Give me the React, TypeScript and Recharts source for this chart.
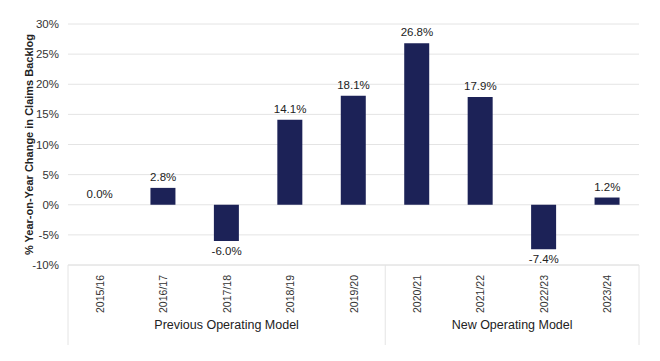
import { ComposedChart, Bar, Line, XAxis, YAxis, CartesianGrid, LabelList } from "recharts";

const years = ["2015/16", "2016/17", "2017/18", "2018/19", "2019/20", "2020/21", "2021/22", "2022/23", "2023/24"];
const changes = [0.0, 2.8, -6.0, 14.1, 18.1, 26.8, 17.9, -7.4, 1.2];
const yTicks = [-10, -5, 0, 5, 10, 15, 20, 25, 30];
const groupNames = ["Previous Operating Model", "New Operating Model"];
// index of last year under the previous model
const lastPrevious = 4;

const data = years.map((year, i) => ({ year, change: changes[i] }));

const FONT = "'Liberation Sans', Arial, sans-serif";
const NAVY = "#1c2257";
const LINE = "#e4e4e4";

const W = 660;
const H = 361;
const MARGIN = { top: 24, right: 21, bottom: 0, left: 0 };
const Y_AXIS_W = 68;
const X_AXIS_H = 96;
const band = (W - MARGIN.left - MARGIN.right - Y_AXIS_W) / years.length;

function YearTick(props: any) {
  const { x, y, payload, index } = props;
  const half = band / 2;
  const top = y - 8;
  const lineBottom = y + 72;
  return (
    <g>
      <text
        x={x}
        y={y + 2}
        transform={`rotate(-90, ${x}, ${y + 2})`}
        textAnchor="end"
        dominantBaseline="central"
        fontSize={10.5}
        fontFamily={FONT}
        fill="#333"
      >
        {payload.value}
      </text>
      {index === 0 && <line x1={x - half} y1={top} x2={x - half} y2={lineBottom} stroke={LINE} />}
      {index === lastPrevious && <line x1={x + half} y1={top} x2={x + half} y2={lineBottom} stroke={LINE} />}
      {index === years.length - 1 && <line x1={x + half} y1={top} x2={x + half} y2={lineBottom} stroke={LINE} />}
      {index === 2 && (
        <text x={x} y={y + 56} textAnchor="middle" fontSize={12.5} fontFamily={FONT} fill="#222">
          {groupNames[0]}
        </text>
      )}
      {index === 6 && (
        <text x={x + half} y={y + 56} textAnchor="middle" fontSize={12.5} fontFamily={FONT} fill="#222">
          {groupNames[1]}
        </text>
      )}
    </g>
  );
}

function ValueLabel(props: any) {
  const { x, y, value } = props;
  const neg = value < 0;
  return (
    <text
      x={x}
      y={neg ? y + 14 : y - 7}
      textAnchor="middle"
      fontSize={11.5}
      fontFamily={FONT}
      fill="#222"
    >
      {`${value.toFixed(1)}%`}
    </text>
  );
}

export default function App() {
  return (
    <div style={{ position: "absolute", left: 0, top: 0, background: "#fff" }}>
      <ComposedChart width={W} height={H} data={data} margin={MARGIN} barCategoryGap={0}>
        <CartesianGrid vertical={false} stroke={LINE} />
        <XAxis
          dataKey="year"
          height={X_AXIS_H}
          interval={0}
          axisLine={{ stroke: LINE }}
          tickLine={false}
          tick={<YearTick />}
        />
        <YAxis
          width={Y_AXIS_W}
          domain={[-10, 30]}
          ticks={yTicks}
          interval={0}
          axisLine={false}
          tickLine={false}
          tickFormatter={(v: number) => `${v}%`}
          tick={{ fontSize: 11.5, fill: "#333", fontFamily: FONT }}
          tickMargin={3}
          label={{
            value: "% Year-on-Year Change in Claims Backlog",
            angle: -90,
            position: "insideLeft",
            offset: 29,
            style: { textAnchor: "middle", fontSize: 11, fontWeight: "bold", fill: "#222", fontFamily: FONT },
          }}
        />
        <Bar dataKey="change" fill={NAVY} barSize={25} isAnimationActive={false} />
        <Line
          dataKey="change"
          stroke="none"
          dot={false}
          activeDot={false}
          legendType="none"
          isAnimationActive={false}
        >
          <LabelList dataKey="change" content={<ValueLabel />} />
        </Line>
      </ComposedChart>
    </div>
  );
}
